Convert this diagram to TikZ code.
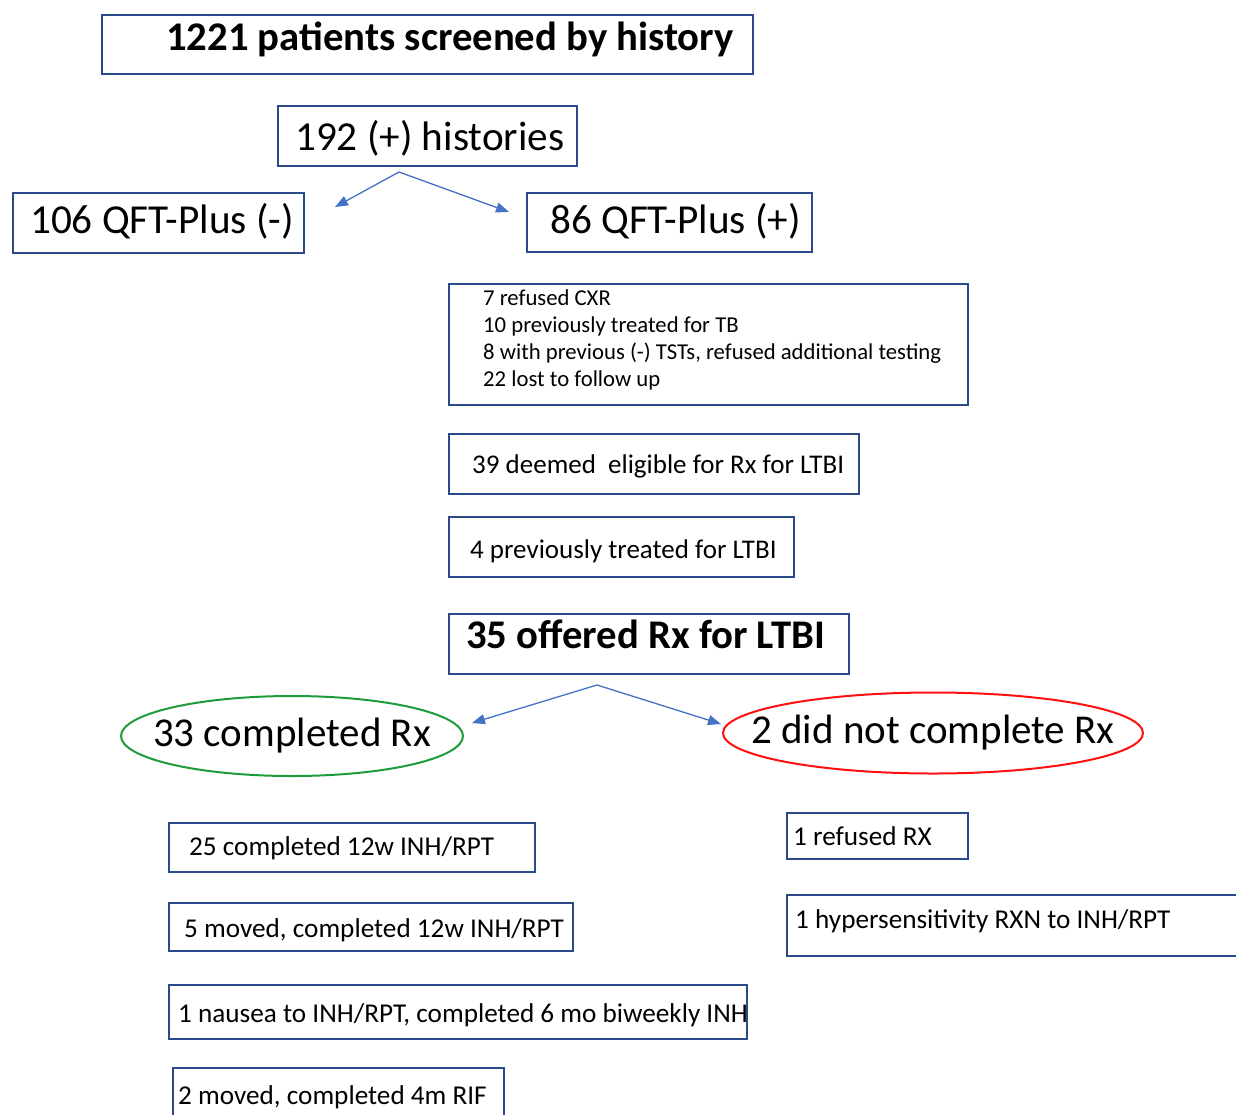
\documentclass[tikz,border=0pt]{standalone}
\usepackage{fontspec}
\setmainfont{Carlito}
\usetikzlibrary{arrows.meta}
\definecolor{boxblue}{HTML}{2B4A8A}
\definecolor{arrblue}{HTML}{4472C4}
\definecolor{okgreen}{HTML}{1E9B3A}
\definecolor{nored}{HTML}{FF1010}
\tikzset{
  box/.style={draw=boxblue, line width=2pt, anchor=north west, inner sep=0pt},
  txt/.style={anchor=base west, inner sep=0pt},
  big/.style={font=\fontsize{41.2}{48}\selectfont},
  bigb/.style={font=\fontsize{40.7}{48}\selectfont\bfseries},
  mid/.style={font=\fontsize{27}{32}\selectfont},
  midb/.style={font=\fontsize{27.2}{32}\selectfont},
  small/.style={font=\fontsize{22.7}{27}\selectfont},
  flow/.style={draw=arrblue, line width=1.3pt, -{Triangle[length=13pt,width=10pt]}},
  ovaltxt/.style={inner sep=0pt, font=\fontsize{41}{48}\selectfont},
  oval/.style={line width=2pt}
}
\begin{document}
\begin{tikzpicture}[x=1pt,y=-1pt]
\useasboundingbox (0,0) rectangle (1236,1114);
\clip (0,0) rectangle (1236,1114);
% top
\node[box, minimum width=651pt, minimum height=59pt] (b1) at (101,14) {};
\node[txt, bigb] (t1) at (166,50) {1221 patients screened by history};
\node[box, minimum width=299pt, minimum height=60pt] (b2) at (277,105) {};
\node[txt, big] (t2) at (295,150) {192 (+) histories};
\node[box, minimum width=291pt, minimum height=60pt] (b3) at (12,192) {};
\node[txt, big] (t3) at (30,233) {106 QFT-Plus (-)};
\node[box, minimum width=285pt, minimum height=59pt] (b4) at (526,192) {};
\node[txt, big] (t4) at (550,233) {86 QFT-Plus (+)};
\coordinate (s1) at (399,172);
\coordinate (e1) at (335,207);
\coordinate (e2) at (509,212);
\draw[flow] (s1) -- (e1);
\draw[flow] (s1) -- (e2);
% middle
\node[box, minimum width=519pt, minimum height=121pt] (b5) at (448,283) {};
\node[txt, small] (t5a) at (483,305) {7 refused CXR};
\node[txt, small] (t5b) at (483,332) {10 previously treated for TB};
\node[txt, small] (t5c) at (483,359) {8 with previous (-) TSTs, refused additional testing};
\node[txt, small] (t5d) at (483,386) {22 lost to follow up};
\node[box, minimum width=410pt, minimum height=60pt] (b6) at (448,433) {};
\node[txt, mid] (t6) at (472,473) {39 deemed\ \ eligible for Rx for LTBI};
\node[box, minimum width=345pt, minimum height=60pt] (b7) at (448,516) {};
\node[txt, mid] (t7) at (470,558) {4 previously treated for LTBI};
\node[box, minimum width=400pt, minimum height=60pt] (b8) at (448,613) {};
\node[txt, bigb] (t8) at (466,648) {35 offered Rx for LTBI};
\coordinate (s2) at (597,685);
\coordinate (e3) at (472,723);
\coordinate (e4) at (721,724);
\draw[flow] (s2) -- (e3);
\draw[flow] (s2) -- (e4);
\node[ovaltxt] (o1) at (292,736) {33 completed Rx};
\draw[oval, draw=okgreen] (o1.center) ellipse [x radius=171pt, y radius=40pt];
\node[ovaltxt] (o2) at (933,733) {2 did not complete Rx};
\draw[oval, draw=nored] (o2.center) ellipse [x radius=210pt, y radius=40.5pt];
% bottom left
\node[box, minimum width=366pt, minimum height=49pt] (b9) at (168,822) {};
\node[txt, midb] (t9) at (189,855) {25 completed 12w INH/RPT};
\node[box, minimum width=404pt, minimum height=48pt] (b10) at (168,902) {};
\node[txt, midb] (t10) at (184,937) {5 moved, completed 12w INH/RPT};
\node[box, minimum width=578pt, minimum height=54pt] (b11) at (168,984) {};
\node[txt, midb] (t11) at (178,1022) {1 nausea to INH/RPT, completed 6 mo biweekly INH};
\node[box, minimum width=331pt, minimum height=70pt] (b12) at (172,1067) {};
\node[txt, midb] (t12) at (178,1104) {2 moved, completed 4m RIF};
% bottom right
\node[box, minimum width=181pt, minimum height=46pt] (b13) at (786,812) {};
\node[txt, midb] (t13) at (793,845) {1 refused RX};
\node[box, minimum width=480pt, minimum height=61pt] (b14) at (786,894) {};
\node[txt, midb] (t14) at (795,928) {1 hypersensitivity RXN to INH/RPT};
\end{tikzpicture}
\end{document}
